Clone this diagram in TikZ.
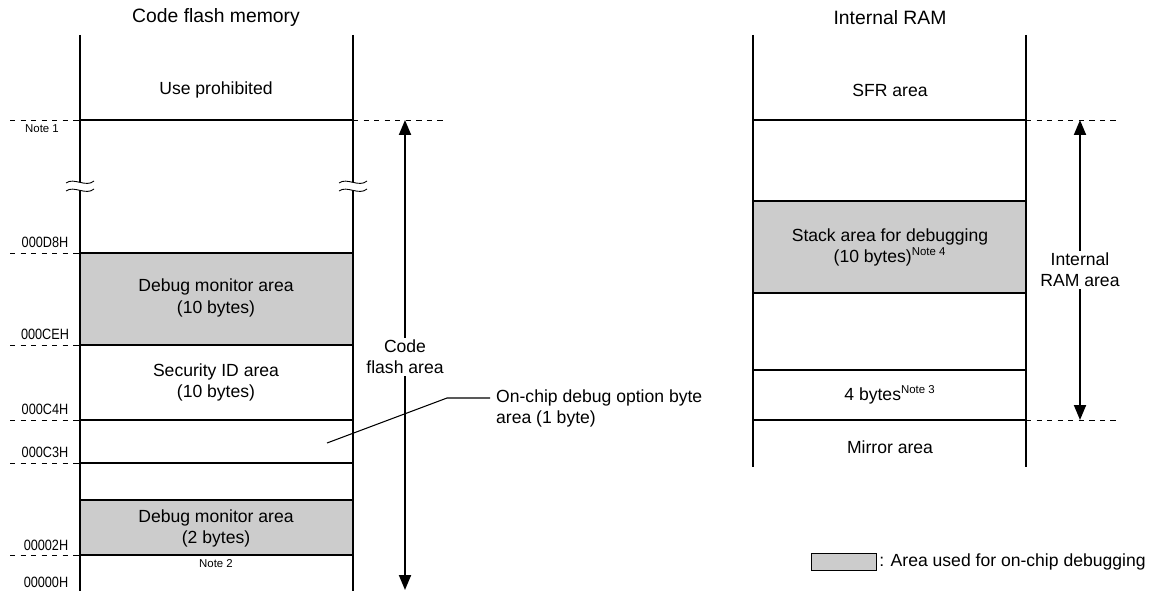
\documentclass[tikz,border=0pt]{standalone}
\usepackage{fontspec}
\setmainfont{Liberation Sans}
\newfontfamily\hexfont[FakeStretch=0.85]{Liberation Sans}
\usetikzlibrary{
    arrows.meta,
    positioning
}
\definecolor{dbggray}{RGB}{204,204,204}

\tikzset{
    memline/.style={line width=1.1pt},
    addrline/.style={dashed, line width=0.5pt},
    dbgarea/.style={fill=dbggray},
    addrlabel/.style={font=\hexfont\fontsize{8.5}{9}\selectfont, anchor=base},
    notelabel/.style={font=\fontsize{6.5}{7}\selectfont, anchor=base},
    arealabel/.style={font=\fontsize{10}{12}\selectfont, align=center},
    titlelabel/.style={font=\fontsize{11}{13}\selectfont},
    rangearrow/.style={line width=1.1pt,
        {Triangle[length=3mm,width=2.4mm]}-{Triangle[length=3mm,width=2.4mm]}},
    gaplabel/.style={arealabel, fill=white, inner sep=1pt}
}
\newcommand{\notesup}[1]{\textsuperscript{\fontsize{6.5}{7}\selectfont #1}}

\begin{document}
\begin{tikzpicture}[x=0.02cm, y=-0.02cm]
\useasboundingbox (0,0) rectangle (1164,591);

% Titles
\node[titlelabel] (cftitle) at (216,18) {Code flash memory};
\node[titlelabel] (ramtitle) at (890,18) {Internal RAM};

% Code flash memory: debug areas
\fill[dbgarea] (80,253) rectangle (353,345);
\fill[dbgarea] (80,500) rectangle (353,555);

% Code flash memory: outline
\draw[memline] (80,35) -- (80,591);
\draw[memline] (353,35) -- (353,591);
\foreach \y in {120,253,345,420,463,500,555}
    \draw[memline] (80,\y) -- (353,\y);

% Break marks
\foreach \x in {80,353} {
    \fill[white] (\x-14,183) .. controls (\x-6,177) and (\x+6,188) .. (\x+14,181)
        -- (\x+14,189) .. controls (\x+6,196) and (\x-6,185) .. (\x-14,191) -- cycle;
    \draw[line width=0.5pt] (\x-14,183) .. controls (\x-6,177) and (\x+6,188) .. (\x+14,181);
    \draw[line width=0.5pt] (\x-14,191) .. controls (\x-6,185) and (\x+6,196) .. (\x+14,189);
}

% Address lines
\foreach \y in {120,253,345,420,463,555}
    \draw[addrline] (10,\y) -- (80,\y);
\draw[addrline] (353,120) -- (446,120);

% Addresses
\node[notelabel] (note1) at (42,133) {Note 1};
\node[addrlabel] (aD8) at (45,248) {000D8H};
\node[addrlabel] (aCE) at (45,340) {000CEH};
\node[addrlabel] (aC4) at (45,415) {000C4H};
\node[addrlabel] (aC3) at (45,458) {000C3H};
\node[addrlabel] (a02) at (46,550) {00002H};
\node[addrlabel] (a00) at (46,587) {00000H};
\node[notelabel] (note2) at (216,567) {Note 2};

% Areas
\node[arealabel] (useproh) at (216,90) {Use prohibited};
\node[arealabel] (dbgmon) at (216,298) {Debug monitor area\\(10 bytes)};
\node[arealabel] (secid) at (216,382) {Security ID area\\(10 bytes)};
\node[arealabel] (dbgmon2) at (216,528) {Debug monitor area\\(2 bytes)};

% Code flash area range
\coordinate (cftop) at (405,120);
\coordinate (cfbot) at (405,590);
\draw[rangearrow] (cftop) -- (cfbot);
\node[gaplabel] (cfarea) at (405,357) {Code\\flash area};

% Option byte leader
\coordinate (optpt) at (327,443);
\coordinate (optbend) at (447,398);
\node[arealabel, anchor=west, align=left] (optbyte) at (490,408)
    {On-chip debug option byte\\area (1 byte)};
\draw[line width=0.6pt] (optpt) -- (optbend) -- (optbyte.west |- optbend);

% Internal RAM: debug area
\fill[dbgarea] (753,201) rectangle (1026,293);

% Internal RAM: outline
\draw[memline] (753,35) -- (753,467);
\draw[memline] (1026,35) -- (1026,467);
\foreach \y in {120,201,293,370,420}
    \draw[memline] (753,\y) -- (1026,\y);

\draw[addrline] (1026,120) -- (1120,120);
\draw[addrline] (1026,420) -- (1120,420);

\node[arealabel] (sfr) at (890,90) {SFR area};
\node[arealabel] (stack) at (890,247) {Stack area for debugging\\(10 bytes)\notesup{Note 4}};
\node[arealabel] (fourb) at (890,395) {4 bytes\notesup{Note 3}};
\node[arealabel] (mirror) at (890,447) {Mirror area};

% Internal RAM area range
\coordinate (ramtop) at (1080,120);
\coordinate (rambot) at (1080,420);
\draw[rangearrow] (ramtop) -- (rambot);
\node[gaplabel] (ramarea) at (1080,270) {Internal\\RAM area};

% Legend
\node[draw, line width=0.8pt, dbgarea, minimum width=1.3cm, minimum height=0.34cm,
    inner sep=0pt] (legbox) at (844,562) {};
\node[arealabel, anchor=west, inner sep=1pt] (legtext) at (legbox.east)
    {: Area used for on-chip debugging};
\end{tikzpicture}
\end{document}
